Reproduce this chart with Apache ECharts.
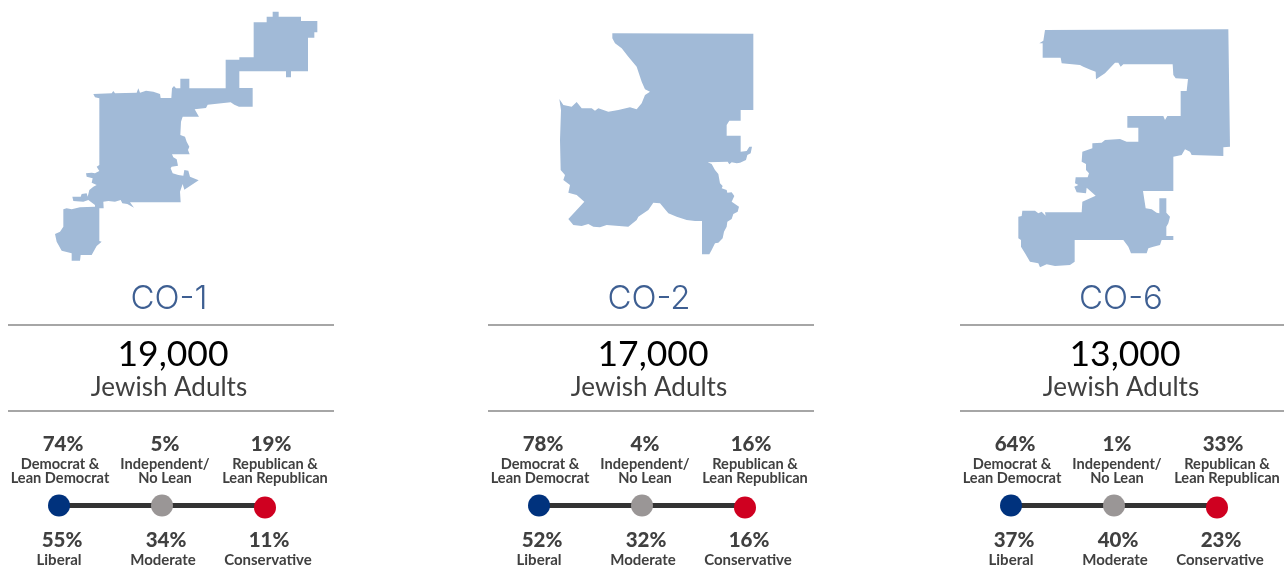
<!DOCTYPE html>
<html>
<head>
<meta charset="utf-8">
<title>Jewish adults by district</title>
<style>
    html, body { margin: 0; padding: 0; background: #fff; }
    #main { width: 1284px; height: 568px; }
</style>
<script src="https://cdn.jsdelivr.net/npm/echarts@6/dist/echarts.min.js"></script>
</head>
<body>
<div id="main"></div>
<script>
var districts = ['CO-1', 'CO-2', 'CO-6'];
var adults = ['19,000', '17,000', '13,000'];
var partyLabels = ['Democrat &\nLean Democrat', 'Independent/\nNo Lean', 'Republican &\nLean Republican'];
var ideologyLabels = ['Liberal', 'Moderate', 'Conservative'];
var partyShares = [['74%', '5%', '19%'], ['78%', '4%', '16%'], ['64%', '1%', '33%']];
var ideologyShares = [['55%', '34%', '11%'], ['52%', '32%', '16%'], ['37%', '40%', '23%']];
var dotColors = ['#00327d', '#9a9696', '#cf0020'];
var dotLevels = [0, 0, 0];

// district outlines at 3x
var co1Trace = [[698,35],[716,35],[716,50],[783,50],[783,63],[832,63],[832,97],[823,97],[823,113],[804,113],[804,214],[753,214],[753,232],[738,232],[738,214],[598,214],[598,264],[638,264],[638,320],[597,320],[583,314],[572,307],[503,314],[498,324],[464,328],[477,350],[428,350],[423,365],[421,405],[435,410],[440,425],[448,440],[444,450],[449,463],[396,463],[400,472],[410,478],[414,497],[395,500],[392,505],[398,520],[415,525],[430,527],[433,510],[445,512],[450,530],[476,541],[433,569],[428,552],[420,575],[422,607],[270,607],[282,623],[262,612],[247,610],[242,600],[225,605],[205,603],[190,605],[191,625],[178,625],[178,723],[185,725],[170,738],[155,765],[122,765],[120,782],[95,782],[95,760],[65,752],[50,725],[45,702],[60,695],[70,680],[70,628],[80,625],[95,628],[120,622],[165,620],[165,615],[145,600],[130,605],[100,603],[97,590],[122,590],[125,582],[140,580],[143,590],[148,570],[160,560],[170,555],[155,548],[158,535],[140,530],[138,520],[155,518],[165,520],[178,513],[170,500],[178,495],[178,295],[165,292],[160,282],[215,280],[220,273],[225,280],[290,278],[295,265],[300,278],[318,272],[340,275],[360,282],[362,294],[394,294],[396,265],[402,258],[408,265],[421,265],[421,236],[448,236],[448,265],[557,265],[557,179],[598,179],[598,172],[641,172],[641,67],[680,67],[680,50],[698,50]];
var co2Trace = [[217,40],[640,41],[640,270],[602,270],[602,302],[568,302],[560,315],[560,347],[602,347],[602,395],[620,393],[628,380],[636,380],[632,400],[622,405],[618,420],[600,428],[590,430],[575,427],[568,433],[563,425],[503,427],[515,432],[525,450],[535,462],[540,490],[548,498],[545,505],[560,510],[562,518],[575,517],[583,528],[575,545],[585,552],[597,560],[593,575],[580,582],[575,597],[562,605],[560,620],[552,635],[548,655],[535,668],[525,670],[515,690],[508,703],[486,703],[486,603],[465,603],[440,600],[410,590],[385,580],[360,550],[340,548],[325,570],[295,590],[290,600],[265,620],[200,615],[180,622],[160,620],[145,612],[125,618],[100,615],[85,597],[133,545],[110,525],[85,518],[90,495],[70,480],[75,465],[62,450],[60,360],[63,270],[58,237],[70,255],[95,260],[110,246],[125,265],[155,265],[165,272],[175,265],[190,270],[205,275],[235,270],[270,262],[290,268],[305,250],[315,225],[330,215],[315,208],[305,185],[290,140],[265,110],[245,85],[225,70],[217,55]];
var co6Trace = [[120,30],[670,28],[675,380],[655,382],[655,408],[560,405],[555,395],[540,388],[530,405],[505,410],[505,513],[414,513],[422,565],[440,568],[455,578],[463,580],[463,535],[484,535],[484,578],[495,590],[490,610],[484,620],[484,648],[505,648],[505,660],[470,660],[465,675],[445,680],[430,685],[425,700],[378,700],[370,680],[355,660],[209,660],[209,725],[195,735],[150,738],[125,733],[105,742],[100,730],[75,725],[60,700],[48,680],[48,660],[40,655],[40,590],[50,588],[52,572],[90,572],[100,580],[110,575],[122,587],[120,577],[230,577],[232,545],[272,527],[245,503],[243,520],[215,517],[208,500],[220,495],[210,490],[212,472],[248,472],[252,460],[243,450],[243,432],[230,425],[232,395],[262,385],[262,370],[290,368],[300,360],[345,357],[365,365],[400,365],[400,323],[367,323],[367,288],[475,288],[480,300],[487,288],[527,288],[527,213],[545,213],[549,177],[512,175],[505,165],[503,133],[355,133],[347,140],[340,128],[330,128],[300,160],[273,178],[272,155],[258,150],[235,140],[225,135],[170,130],[167,113],[113,113],[113,70],[103,70],[115,62]];

var traces = [co1Trace, co2Trace, co6Trace];
var traceOrigins = [[40, 0], [540, 20], [1005, 20]];
var panelOffsets = [0, 480, 952];

// 底图：一个 geo 铺满整页，经纬度就是图上的像素（y 取负）
function buildGeoJson() {
    var features = [];
    for (let i = 0; i < traces.length; i++) {
        let ring = traces[i].map(function (p) {
            return [traceOrigins[i][0] + p[0] / 3, -(traceOrigins[i][1] + p[1] / 3)];
        });
        ring.push(ring[0]);
        features.push({
            type: 'Feature',
            properties: {name: districts[i]},
            geometry: {type: 'Polygon', coordinates: [ring]}
        });
    }
    return {type: 'FeatureCollection', features: features};
}

function text(str, x, y, font, color, lineHeight) {
    return {
        type: 'text',
        silent: true,
        style: {
            text: str, x: x, y: y, font: font, fill: color,
            align: 'center', verticalAlign: 'middle', lineHeight: lineHeight
        }
    };
}

function rule(x, y) {
    return {
        type: 'rect',
        silent: true,
        shape: {x: x, y: y, width: 326, height: 2},
        style: {fill: '#a6a6a6'}
    };
}

function buildGraphics() {
    var els = [];
    var grey = '#404040';
    var partyX = [63, 165, 271];
    var partyLabelX = [60, 165, 275];
    var ideoX = [62, 166, 269];
    var ideoLabelX = [59, 163, 268];
    panelOffsets.forEach(function (off, i) {
        els.push(text(districts[i], 169 + off, 299, '300 33px Inter', '#3e5f92'));
        els.push(rule(8 + off, 324));
        els.push(text(adults[i], 173 + off, 355, '400 35.5px Lato', '#000000'));
        els.push(text('Jewish Adults', 169 + off, 388, '400 26px Lato', grey));
        els.push(rule(8 + off, 410));
        for (let j = 0; j < 3; j++) {
            els.push(text(partyShares[i][j], partyX[j] + off, 444, '900 20.5px Lato', grey));
            els.push(text(partyLabels[j], partyLabelX[j] + off, 471.5, '700 14.6px Lato', grey, 14));
            els.push(text(ideologyShares[i][j], ideoX[j] + off, 540, '900 20.5px Lato', grey));
            els.push(text(ideologyLabels[j], ideoLabelX[j] + off, 560, '700 15px Lato', grey));
        }
    });
    return els;
}

window.onload = function () {
    echarts.registerMap('districts', buildGeoJson());
    var myChart = echarts.init(document.getElementById('main'), null, {renderer: 'canvas'});

    var grids = [], xAxes = [], yAxes = [];
    var series = [{
        type: 'map',
        map: 'districts',
        left: 0,
        top: 0,
        width: 1284,
        height: 568,
        aspectScale: 1,
        boundingCoords: [[0, 0], [1284, -568]],
        roam: false,
        silent: true,
        label: {show: false},
        itemStyle: {areaColor: '#a1bad7', borderWidth: 0},
        data: districts.map(function (d) { return {name: d, value: 1}; })
    }];

    panelOffsets.forEach(function (off, i) {
        grids.push({left: 59 + off, width: 206, top: 495, height: 21});
        xAxes.push({type: 'category', gridIndex: i, show: false, boundaryGap: false, data: partyLabels});
        yAxes.push({type: 'value', gridIndex: i, show: false, min: -1, max: 1});
        series.push({
            type: 'line',
            xAxisIndex: i,
            yAxisIndex: i,
            silent: true,
            symbol: 'circle',
            symbolSize: 22,
            lineStyle: {color: '#333333', width: 5},
            z: 3,
            data: dotLevels.map(function (v, j) {
                return {
                    value: v,
                    symbolOffset: [0, j === 2 ? 2 : 0],
                    itemStyle: {color: dotColors[j], opacity: 1}
                };
            })
        });
    });

    var option = {
        animation: false,
        tooltip: {show: false},
        grid: grids,
        xAxis: xAxes,
        yAxis: yAxes,
        series: series,
        graphic: {elements: buildGraphics()}
    };
    myChart.setOption(option);
};
</script>
</body>
</html>
